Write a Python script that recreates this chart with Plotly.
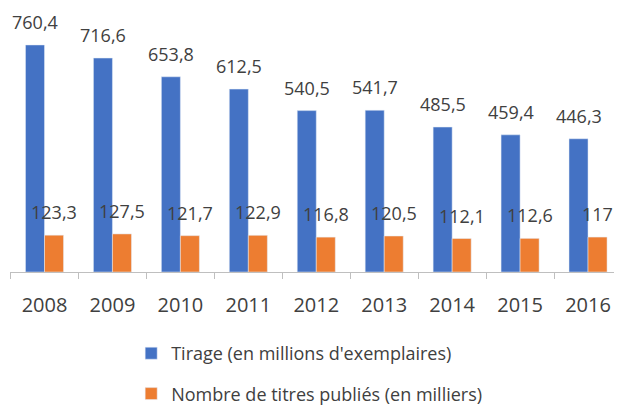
import plotly.graph_objects as go

years = ["2008", "2009", "2010", "2011", "2012", "2013", "2014", "2015", "2016"]
tirage = [760.4, 716.6, 653.8, 612.5, 540.5, 541.7, 485.5, 459.4, 446.3]
titres = [123.3, 127.5, 121.7, 122.9, 116.8, 120.5, 112.1, 112.6, 117]

BLUE = "#4472C4"
ORANGE = "#ED7D31"
TEXT = "#404040"
FONT = "Open Sans"
BARGAP = 0.44


def fr(v):
    """French decimal format: 760.4 -> '760,4', 117 -> '117'."""
    return f"{v:g}".replace(".", ",")


fig = go.Figure()
fig.add_trace(go.Bar(
    x=years, y=tirage, name="Tirage (en millions d'exemplaires)",
    marker_color=BLUE, legendgroup="a"
))
fig.add_trace(go.Bar(
    x=years, y=titres, name="Nombre de titres publiés (en milliers)",
    marker_color=ORANGE, legendgroup="b"
))

# data labels above each bar (category axis -> numeric index positions)
half = (1 - BARGAP) / 4
for i, (a, b) in enumerate(zip(tirage, titres)):
    for x, v in ((i - half, a), (i + half, b)):
        fig.add_annotation(
            x=x, y=v, text=fr(v), showarrow=False,
            yanchor="middle", yshift=23,
            font=dict(family=FONT, size=18, color=TEXT)
        )

# page body has an 8px margin, so the figure is sized 8px smaller
fig.update_layout(
    width=614, height=397,
    margin=dict(l=2, r=0, t=12, b=133, autoexpand=False),
    paper_bgcolor="white", plot_bgcolor="white",
    barmode="group", bargap=BARGAP, bargroupgap=0,
    font=dict(family=FONT, size=18, color=TEXT),
    showlegend=True,
    legend=dict(
        orientation="v", x=0.198, xanchor="left", y=-0.25, yanchor="top",
        font=dict(family=FONT, size=18, color=TEXT),
        tracegroupgap=14, bgcolor="rgba(0,0,0,0)"
    ),
    xaxis=dict(
        type="category", showline=True, linecolor="#BFBFBF", linewidth=1,
        ticks="outside", tickson="boundaries", ticklen=6, tickcolor="#BFBFBF",
        tickfont=dict(family=FONT, size=20, color=TEXT),
        ticklabelstandoff=15, showgrid=False, zeroline=False
    ),
    yaxis=dict(
        range=[0, 844], visible=False, showgrid=False, zeroline=False
    ),
)

fig.write_html("out.html")
